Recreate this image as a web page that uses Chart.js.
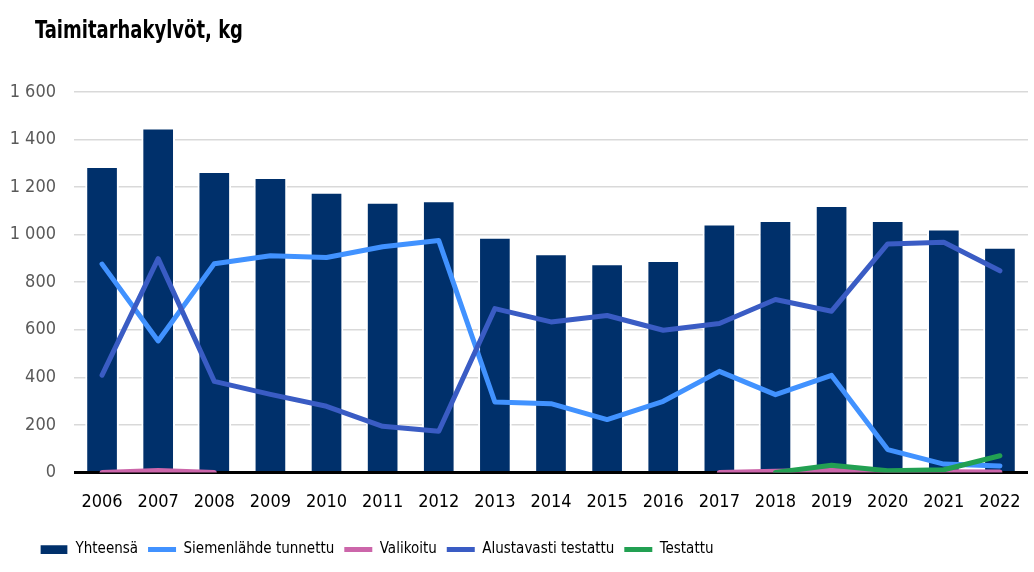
<!DOCTYPE html>
<html>
<head>
<meta charset="utf-8">
<script src="https://cdn.jsdelivr.net/npm/chart.js@4.4.1/dist/chart.umd.min.js"></script>
<style>
    html, body { margin: 0; padding: 0; background: #fff; }
    #wrap { position: relative; width: 1034px; height: 572px; }
    #title {
        position: absolute; left: 35px; top: 15px;
        font-family: "Liberation Sans Narrow", "DejaVu Sans Condensed", sans-serif;
        font-weight: bold; font-size: 25px; color: #000;
        transform: scaleX(0.8); transform-origin: left center;
        white-space: nowrap;
    }
    #chart { position: absolute; left: 0; top: 0; }
</style>
</head>
<body>
<div id="wrap">
    <canvas id="chart" width="1034" height="572"></canvas>
    <div id="title">Taimitarhakylvöt, kg</div>
</div>
<script>
const years = ["2006", "2007", "2008", "2009", "2010", "2011", "2012", "2013", "2014",
    "2015", "2016", "2017", "2018", "2019", "2020", "2021", "2022"];
const yhteensa = [1285, 1447, 1263, 1238, 1176, 1134, 1141, 987, 918, 876, 889, 1043, 1057, 1120, 1057, 1022, 945];
const siemenlahde = [876, 553, 878, 911, 904, 949, 975, 296, 289, 222, 299, 425, 327, 408, 96, 35, 27];
const valikoitu = [0, 8, 0, null, null, null, null, null, null, null, null, 0, 5, 8, 3, 3, 2];
const alustavasti = [409, 899, 383, 328, 278, 194, 173, 689, 633, 660, 598, 626, 727, 678, 961, 968, 848];
const testattu = [null, null, null, null, null, null, null, null, null, null, null, null, 0, 30, 7, 11, 70];
const yTicks = [0, 200, 400, 600, 800, 1000, 1200, 1400, 1600];

const FONT = "'Liberation Sans Narrow', 'DejaVu Sans Condensed', sans-serif";

function formatTick(v) {
    return String(v).replace(/\B(?=(\d{3})+(?!\d))/g, " ");
}

function lineSet(label, data, color, order) {
    return {
        type: "line",
        label: label,
        data: data,
        borderColor: color,
        backgroundColor: color,
        borderWidth: 5,
        borderCapStyle: "round",
        borderJoinStyle: "round",
        pointRadius: 0,
        pointHoverRadius: 0,
        pointStyle: "line",
        tension: 0,
        spanGaps: false,
        order: order
    };
}

// nudge the legend to the right, like in the original
const legendShift = {
    id: "legendShift",
    afterLayout(chart) {
        if (chart.legend) {
            chart.legend.left += 30;
            chart.legend.right += 30;
        }
    }
};

const ctx = document.getElementById("chart").getContext("2d");

new Chart(ctx, {
    data: {
        labels: years,
        datasets: [
            {
                type: "bar",
                label: "Yhteensä",
                data: yhteensa,
                backgroundColor: "#00306b",
                borderColor: "#ffffff",
                borderWidth: { left: 2, right: 2, top: 1, bottom: 0 },
                borderSkipped: "start",
                barPercentage: 0.6,
                categoryPercentage: 1,
                pointStyle: "rect",
                order: 10
            },
            lineSet("Siemenlähde tunnettu", siemenlahde, "#4192ff", 4),
            lineSet("Valikoitu", valikoitu, "#cc66aa", 3),
            lineSet("Alustavasti testattu", alustavasti, "#3a5cc4", 2),
            lineSet("Testattu", testattu, "#22a052", 1)
        ]
    },
    plugins: [legendShift],
    options: {
        responsive: false,
        animation: false,
        layout: { padding: { top: 92, right: 6, bottom: 5, left: 0 } },
        plugins: {
            tooltip: { enabled: false },
            legend: {
                position: "bottom",
                align: "start",
                labels: {
                    usePointStyle: true,
                    pointStyleWidth: 28,
                    boxHeight: 10,
                    padding: 10,
                    color: "#000",
                    font: { family: FONT, size: 15 },
                    sort: (a, b) => a.datasetIndex - b.datasetIndex
                }
            }
        },
        scales: {
            x: {
                offset: true,
                afterFit: scale => {
                    scale.paddingLeft = 0;
                    scale.paddingRight = 0;
                },
                grid: { display: false, drawTicks: false },
                border: { display: false },
                ticks: {
                    color: "#000",
                    padding: 19,
                    maxRotation: 0,
                    font: { family: FONT, size: 18 }
                }
            },
            y: {
                min: 0,
                max: 1600,
                afterBuildTicks: scale => {
                    scale.ticks = yTicks.map(v => ({ value: v }));
                },
                afterFit: scale => { scale.width = 74; },
                grid: {
                    drawTicks: false,
                    color: c => (c.tick.value === 0 ? "#000" : "#d9d9d9"),
                    lineWidth: c => (c.tick.value === 0 ? 3 : 1.5)
                },
                border: { display: false },
                ticks: {
                    color: "#595959",
                    padding: 18,
                    font: { family: FONT, size: 18 },
                    callback: v => formatTick(v)
                }
            }
        }
    }
});
</script>
</body>
</html>
